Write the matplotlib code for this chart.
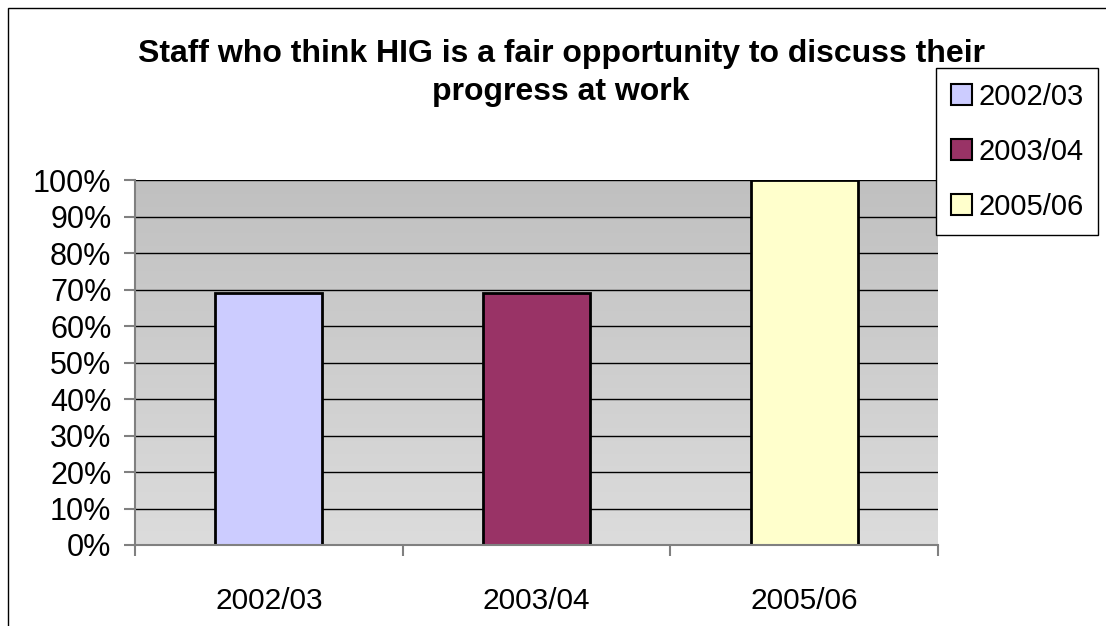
"""
Bar chart: staff who think HIG is a fair opportunity to discuss progress.
"""
import matplotlib
matplotlib.use("Agg")
import matplotlib.pyplot as plt
import numpy as np
from matplotlib.patches import Patch, Rectangle
from matplotlib.ticker import FixedLocator

years = ["2002/03", "2003/04", "2005/06"]
share_pct = [69, 69, 100]
bar_colors = ["#ccccff", "#993366", "#ffffcc"]
y_ticks = list(range(0, 101, 10))
title_lines = ["Staff who think HIG is a fair opportunity to discuss their",
               "progress at work"]

plt.rcParams["font.family"] = ["Liberation Sans", "DejaVu Sans"]

W, H = 1106, 626
fig = plt.figure(figsize=(W / 100, H / 100), dpi=100)
fig.patch.set_facecolor("white")

# outer chart border (only left and top fall inside the canvas)
fig.add_artist(Rectangle((8 / W, -0.1), 1.2, 1 - 8 / H + 0.1,
                         transform=fig.transFigure, fill=False,
                         edgecolor="black", linewidth=1.0))

ax = fig.add_axes([135 / W, (H - 545) / H, 803 / W, 365 / H])
x = np.arange(len(years))

# grey gradient plot area
grad = np.linspace(0, 1, 256).reshape(-1, 1)
ax.imshow(grad, extent=[-0.5, len(years) - 0.5, 0, 100], aspect="auto",
          cmap=matplotlib.colors.LinearSegmentedColormap.from_list(
              "bg", ["#c0c0c0", "#dcdcdc"]),
          origin="upper", zorder=0)

for t in y_ticks[1:]:
    ax.axhline(t, color="black", linewidth=1.0, zorder=1)

ax.bar(x, share_pct, width=0.4, color=bar_colors, edgecolor="black",
       linewidth=2.0, zorder=2)

ax.set_xlim(-0.5, len(years) - 0.5)
ax.set_ylim(0, 100)

for s in ("top", "right"):
    ax.spines[s].set_visible(False)
for s in ("left", "bottom"):
    ax.spines[s].set_color("#808080")
    ax.spines[s].set_linewidth(1.5)
    ax.spines[s].set_zorder(3)

ax.set_yticks(y_ticks)
ax.set_yticklabels([f"{t}%" for t in y_ticks], fontsize=22)
ax.tick_params(axis="y", length=8, width=1.5, color="#808080", pad=9)

ax.set_xticks(x)
ax.set_xticklabels(years, fontsize=21.5)
ax.xaxis.set_minor_locator(FixedLocator(np.arange(-0.5, len(years), 1.0)))
ax.tick_params(axis="x", which="major", length=0, pad=30)
ax.tick_params(axis="x", which="minor", length=8, width=1.5, color="#808080")

for line, base_y in zip(title_lines, (62, 100)):
    fig.text(561 / W, 1 - base_y / H, line, ha="center", va="baseline",
             fontsize=23, fontweight="bold")

handles = [Patch(facecolor=c, edgecolor="black", linewidth=1.5) for c in bar_colors]
leg = fig.legend(handles, years, loc="upper left",
                 bbox_to_anchor=(936 / W, 1 - 68 / H),
                 bbox_transform=fig.transFigure, fontsize=21,
                 frameon=True, fancybox=False, edgecolor="black",
                 framealpha=1, handlelength=0.75, handleheight=0.75,
                 handletextpad=0.2, labelspacing=0.93, borderpad=0.5,
                 borderaxespad=0)
leg.get_frame().set_linewidth(1.0)

fig.savefig("out.png", dpi=100)
